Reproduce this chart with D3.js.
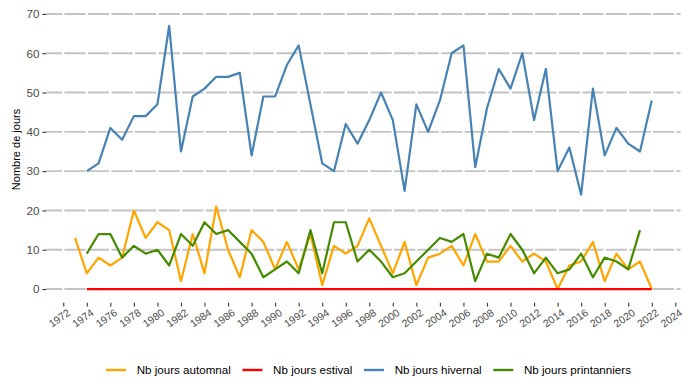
<!DOCTYPE html>
<html>
<head>
<meta charset="utf-8">
<script src="https://cdn.jsdelivr.net/npm/d3@7"></script>
<style>
  html, body { margin: 0; padding: 0; background: #fff; }
  svg { display: block; font-family: "Liberation Sans", Arial, Helvetica, sans-serif; }
</style>
</head>
<body>
<svg id="chart" width="700" height="380"></svg>
<script>
// ---- Data ----
const years = d3.range(1973, 2023); // 1973 .. 2022
const automnal = [13, 4, 8, 6, 8, 20, 13, 17, 15, 2, 14, 4, 21, 10, 3, 15, 12, 5, 12, 5,
  14, 1, 11, 9, 11, 18, 11, 4, 12, 1, 8, 9, 11, 6, 14, 7, 7, 11, 7, 9,
  7, 0, 6, 7, 12, 2, 9, 5, 7, 0];
const estival = [null, 0, 0, 0, 0, 0, 0, 0, 0, 0, 0, 0, 0, 0, 0, 0, 0, 0, 0, 0,
  0, 0, 0, 0, 0, 0, 0, 0, 0, 0, 0, 0, 0, 0, 0, 0, 0, 0, 0, 0,
  0, 0, 0, 0, 0, 0, 0, 0, 0, 0];
const hivernal = [null, 30, 32, 41, 38, 44, 44, 47, 67, 35, 49, 51, 54, 54, 55, 34, 49, 49, 57, 62,
  47, 32, 30, 42, 37, 43, 50, 43, 25, 47, 40, 48, 60, 62, 31, 46, 56, 51, 60, 43,
  56, 30, 36, 24, 51, 34, 41, 37, 35, 48];
const printanniers = [null, 9, 14, 14, 8, 11, 9, 10, 6, 14, 11, 17, 14, 15, 12, 9, 3, 5, 7, 4,
  15, 4, 17, 17, 7, 10, 7, 3, 4, 7, 10, 13, 12, 14, 2, 9, 8, 14, 10, 4,
  8, 4, 5, 9, 3, 8, 7, 5, 15, null];

const seriesNames = ["Nb jours automnal", "Nb jours estival", "Nb jours hivernal", "Nb jours printanniers"];
const seriesColors = ["#FFA500", "#FF0000", "#4682B4", "#458B00"];
const xTicks = d3.range(1972, 2025, 2);
const yTicks = [0, 10, 20, 30, 40, 50, 60, 70];
const yTitle = "Nombre de jours";

const seriesValues = [automnal, estival, hivernal, printanniers];

// ---- Layout ----
const svg = d3.select("#chart");
const panel = { left: 46.2, right: 680.6, top: 0.2, bottom: 302.8 };

const x = d3.scaleLinear().domain([1970.55, 2024.45]).range([panel.left, panel.right]);
const y = d3.scaleLinear().domain([-3.5, 73.5]).range([panel.bottom, panel.top]);

// horizontal grid (gray)
svg.append("g")
  .selectAll("line")
  .data(yTicks)
  .join("line")
  .attr("x1", panel.left).attr("x2", panel.right)
  .attr("y1", d => y(d)).attr("y2", d => y(d))
  .attr("stroke", "#C4C4C4")
  .attr("stroke-width", 1.9);

// vertical grid (white, cuts the horizontal lines)
svg.append("g")
  .selectAll("line")
  .data(xTicks)
  .join("line")
  .attr("x1", d => x(d)).attr("x2", d => x(d))
  .attr("y1", panel.top).attr("y2", panel.bottom)
  .attr("stroke", "#FFFFFF")
  .attr("stroke-width", 2.3);

// series lines
const line = d3.line()
  .defined(d => d.v !== null)
  .x(d => x(d.year))
  .y(d => y(d.v));

seriesValues.forEach((vals, i) => {
  const pts = years.map((yr, k) => ({ year: yr, v: vals[k] }));
  svg.append("path")
    .datum(pts)
    .attr("fill", "none")
    .attr("stroke", seriesColors[i])
    .attr("stroke-width", 2.2)
    .attr("stroke-linejoin", "round")
    .attr("d", line);
});

// y axis
const yAxis = svg.append("g")
  .attr("transform", `translate(${panel.left},0)`)
  .call(d3.axisLeft(y).tickValues(yTicks).tickSize(3.7).tickPadding(3).tickFormat(d3.format("d")));
yAxis.select(".domain").remove();
yAxis.selectAll(".tick line").attr("stroke", "#333333").attr("stroke-width", 1.1);
yAxis.selectAll(".tick text")
  .attr("fill", "#4D4D4D")
  .style("font-size", "11.7px")
  .style("font-family", "'Liberation Sans', Arial, sans-serif");

// x axis
const xAxis = svg.append("g")
  .attr("transform", `translate(0,${panel.bottom})`)
  .call(d3.axisBottom(x).tickValues(xTicks).tickSize(3.7).tickFormat(d3.format("d")));
xAxis.select(".domain").remove();
xAxis.selectAll(".tick line").attr("stroke", "#333333").attr("stroke-width", 1.1);
xAxis.selectAll(".tick text")
  .attr("fill", "#4D4D4D")
  .attr("y", 0)
  .attr("dy", "0.71em")
  .attr("text-anchor", "end")
  .attr("transform", "translate(3,5.5) rotate(-35)")
  .style("font-size", "10.5px")
  .style("font-family", "'Liberation Sans', Arial, sans-serif");

// y title
svg.append("text")
  .attr("transform", `translate(19.5,${(panel.top + panel.bottom) / 2 - 2}) rotate(-90)`)
  .attr("text-anchor", "middle")
  .attr("fill", "#000")
  .style("font-size", "11px")
  .text(yTitle);

// legend
const legend = svg.append("g").attr("transform", "translate(0,370)");
let lx = 106;
seriesNames.forEach((name, i) => {
  legend.append("line")
    .attr("x1", lx).attr("x2", lx + 20)
    .attr("y1", 0).attr("y2", 0)
    .attr("stroke", seriesColors[i])
    .attr("stroke-width", 2.4);
  const t = legend.append("text")
    .attr("x", lx + 30.7)
    .attr("y", 0)
    .attr("dy", "0.35em")
    .attr("fill", "#000")
    .style("font-size", "11.6px")
    .text(name);
  lx = lx + 30.7 + t.node().getComputedTextLength() + 11.6;
});
</script>
</body>
</html>
